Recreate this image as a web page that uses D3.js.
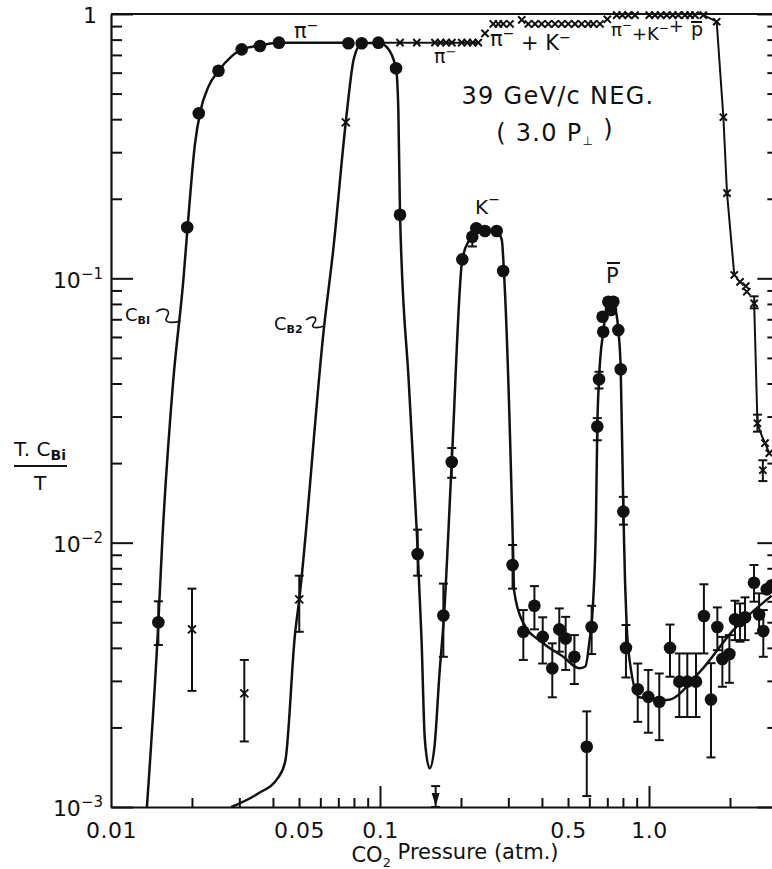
<!DOCTYPE html>
<html>
<head>
<meta charset="utf-8">
<script src="https://cdn.jsdelivr.net/npm/d3@7"></script>
<style>
  body { margin: 0; background: #fff; }
  text { font-family: "DejaVu Sans", sans-serif; fill: #111; }
</style>
</head>
<body>
<script>
// ---------------- data ----------------
// filled circles: pressure (atm), T.C_Bi/T, error bar low / high (null = none)
const dotP  = [0.0150, 0.0192, 0.0212, 0.0251, 0.0306, 0.0358, 0.0421, 0.0763, 0.0855, 0.0986,
               0.1147, 0.1187, 0.138, 0.172, 0.1848, 0.2023, 0.2204, 0.228, 0.2456, 0.2715,
               0.287, 0.311, 0.341, 0.375, 0.4026, 0.437, 0.464, 0.49, 0.528, 0.587,
               0.612, 0.6425, 0.652, 0.672, 0.676, 0.706, 0.722, 0.737, 0.769, 0.785,
               0.803, 0.821, 0.908, 0.994, 1.092, 1.197, 1.296, 1.388, 1.495, 1.60,
               1.70, 1.795, 1.874, 1.99, 2.088, 2.18, 2.275, 2.456, 2.566, 2.66, 2.74, 2.86];
const dotT  = [5.0e-3, 0.156, 0.421, 0.610, 0.735, 0.757, 0.779, 0.775, 0.775, 0.779,
               0.623, 0.174, 9.06e-3, 5.3e-3, 0.0202, 0.118, 0.1437, 0.1546, 0.151, 0.151,
               0.1066, 8.23e-3, 4.6e-3, 5.77e-3, 4.4e-3, 3.35e-3, 4.7e-3, 4.34e-3, 3.7e-3, 1.69e-3,
               4.8e-3, 0.0275, 0.0415, 0.0716, 0.0628, 0.0815, 0.0759, 0.0815, 0.0637, 0.0453,
               0.0131, 4.0e-3, 2.79e-3, 2.61e-3, 2.5e-3, 4.0e-3, 2.98e-3, 2.98e-3, 2.98e-3, 5.28e-3,
               2.55e-3, 4.8e-3, 3.63e-3, 3.79e-3, 5.13e-3, 5.05e-3, 5.22e-3, 7.05e-3, 5.35e-3, 4.63e-3, 6.66e-3, 6.9e-3];
const dotLo = [4.1e-3, null, null, null, null, null, null, null, null, null,
               null, null, 7.5e-3, 3.7e-3, 0.0176, null, 0.132, null, null, null,
               null, 6.7e-3, 3.6e-3, 4.7e-3, 3.49e-3, 2.6e-3, 3.87e-3, 3.3e-3, 2.92e-3, 1.1e-3,
               3.79e-3, 0.0244, 0.0383, null, null, null, null, null, null, null,
               0.0117, 3.09e-3, 2.1e-3, 1.91e-3, 1.79e-3, 3.11e-3, 2.19e-3, 2.19e-3, 2.19e-3, 3.81e-3,
               1.54e-3, 3.92e-3, 2.85e-3, 2.95e-3, 4.28e-3, 4.22e-3, 4.28e-3, 5.98e-3, 4.54e-3, 3.7e-3, null, null];
const dotHi = [6.0e-3, null, null, null, null, null, null, null, null, null,
               null, null, 0.0112, 7.0e-3, 0.0228, null, 0.1437, null, null, null,
               null, 9.8e-3, 5.56e-3, 6.85e-3, 5.22e-3, 4.16e-3, 5.64e-3, 5.24e-3, 4.47e-3, 2.3e-3,
               5.77e-3, 0.0296, 0.0443, null, null, null, null, null, null, null,
               0.0149, 4.88e-3, 3.49e-3, 3.3e-3, 3.2e-3, 4.9e-3, 3.81e-3, 3.81e-3, 3.81e-3, 6.96e-3,
               3.5e-3, 5.69e-3, 4.4e-3, 4.47e-3, 6.03e-3, 5.89e-3, 6.21e-3, 8.23e-3, 6.43e-3, 5.56e-3, null, null];

// crosses (total transmission T and C_B2 points)
const crossP  = [0.0200, 0.0313, 0.0501, 0.0746,
                 0.0985, 0.1187, 0.137, 0.160, 0.168, 0.176, 0.185, 0.2013, 0.211, 0.2212, 0.232, 0.2457,
                 0.2637, 0.2754, 0.2873, 0.3043, 0.3364, 0.3559, 0.3769, 0.3991, 0.4224, 0.4473, 0.4737,
                 0.5012, 0.5307, 0.5621, 0.5948, 0.6209, 0.6574, 0.6998,
                 0.7586, 0.7959, 0.8377, 0.8872, 1.0026, 1.0527, 1.1053, 1.1636, 1.2248, 1.2852,
                 1.3609, 1.4205, 1.4826, 1.5918, 1.785,
                 1.89, 1.95, 2.075, 2.18, 2.29, 2.31, 2.46, 2.53, 2.70, 2.80, 2.65];
const crossT  = [4.7e-3, 2.69e-3, 6.1e-3, 0.389,
                 0.779, 0.779, 0.779, 0.779, 0.779, 0.779, 0.779, 0.779, 0.779, 0.779, 0.779, 0.845,
                 0.917, 0.917, 0.917, 0.917, 0.950, 0.917, 0.917, 0.917, 0.917, 0.917, 0.917,
                 0.917, 0.917, 0.917, 0.917, 0.917, 0.917, 0.955,
                 0.99, 0.99, 0.99, 0.99, 0.99, 0.99, 0.99, 0.99, 0.99, 0.99,
                 0.99, 0.99, 0.99, 0.99, 0.935,
                 0.407, 0.210, 0.103, 0.097, 0.0935, 0.089, 0.0804, 0.0283, 0.0238, 0.0218, 0.0188];
const crossLo = {0: 2.75e-3, 1: 1.77e-3, 2: 4.6e-3, 55: 0.077, 56: 0.0263, 59: 0.0171};
const crossHi = {0: 6.7e-3, 1: 3.6e-3, 2: 7.5e-3, 55: 0.0855, 56: 0.0305, 59: 0.0205};

// fitted curve C_B1
const b1P = [0.0136, 0.0150, 0.0155, 0.0170, 0.0186, 0.0193, 0.0205, 0.0215, 0.0230, 0.0251,
             0.0280, 0.0306, 0.0358, 0.0421, 0.0600, 0.0763];
const b1T = [1e-3, 5e-3, 1e-2, 0.04, 0.1, 0.16, 0.32, 0.43, 0.53, 0.61,
             0.69, 0.735, 0.760, 0.778, 0.779, 0.779];

// fitted curve C_B2 through the K- and p peaks
const b2P = [0.0280, 0.0350, 0.0420, 0.0445, 0.0483, 0.0501, 0.0620, 0.0670, 0.0746, 0.0800,
             0.0855, 0.0986, 0.1060, 0.1147, 0.1170, 0.1187, 0.1280, 0.1370, 0.1427, 0.1468,
             0.1529, 0.1595, 0.1664, 0.1730, 0.1848, 0.2023, 0.2150, 0.2300, 0.2700, 0.2835,
             0.2900, 0.3130, 0.3150, 0.3400, 0.4000, 0.4800, 0.5500, 0.5800, 0.6000, 0.6200,
             0.6350, 0.6425, 0.6520, 0.6760, 0.7000, 0.7220, 0.7450, 0.7690, 0.7850, 0.8030,
             0.8150, 0.8250, 0.8500, 0.9200, 1.164, 1.548, 2.058, 2.860];
const b2T = [1e-3, 1.12e-3, 1.3e-3, 1.5e-3, 4.5e-3, 6.1e-3, 0.066, 0.128, 0.389, 0.68,
             0.775, 0.779, 0.75, 0.623, 0.433, 0.174, 0.04, 0.011, 4.3e-3, 1.8e-3,
             1.4e-3, 1.7e-3, 3.2e-3, 5.3e-3, 0.0202, 0.118, 0.14, 0.152, 0.152, 0.14,
             0.0985, 8.6e-3, 6.6e-3, 5.0e-3, 4.2e-3, 3.7e-3, 3.35e-3, 3.4e-3, 4.2e-3, 6.0e-3,
             0.012, 0.0275, 0.0415, 0.0628, 0.078, 0.081, 0.078, 0.0637, 0.0453, 0.0131,
             7e-3, 5e-3, 3.5e-3, 2.6e-3, 2.54e-3, 3.25e-3, 4.67e-3, 6.3e-3];

// straight lines joining the total-transmission crosses
const tLines = [
  {p: [0.0986, 0.2320], t: [0.779, 0.779]},
  {p: [1.5918, 1.785, 1.89, 1.95, 2.075], t: [0.99, 0.935, 0.407, 0.210, 0.103]},
  {p: [2.46, 2.53, 2.62, 2.70, 2.80], t: [0.0804, 0.0283, 0.0255, 0.0238, 0.0218]}
];

// upper-limit arrow
const limitP = 0.161, limitT = 1.2e-3;

// axes
const xMajor = [0.1, 1];
const xMinor = [0.02, 0.03, 0.04, 0.05, 0.06, 0.07, 0.08, 0.09, 0.2, 0.3, 0.4, 0.5, 0.6, 0.7, 0.8, 0.9, 2];
const xLabels = [0.01, 0.05, 0.1, 0.5, 1];
const xLabelText = ["0.01", "0.05", "0.1", "0.5", "1.0"];
const yMajor = [1e-3, 1e-2, 1e-1, 1];
const yLabelExp = [-3, -2, -1, 0];

// ---------------- drawing ----------------
const width = 772, height = 869;
const svg = d3.select("body").append("svg")
    .attr("width", width).attr("height", height);
svg.append("rect").attr("width", width).attr("height", height).attr("fill", "#fff");

const x = d3.scaleLog().domain([0.01, 3]).range([111, 111 + 269 * Math.log10(300)]);
const y = d3.scaleLog().domain([1e-3, 1]).range([807, 14]);

const yMinor = [];
[1e-3, 1e-2, 1e-1].forEach(d => { for (let k = 2; k <= 9; k++) yMinor.push(d * k); });

const ink = "#111";

function styleAxis(g) {
    g.selectAll("line").attr("stroke", ink).attr("stroke-width", 2);
    g.selectAll(".domain").attr("stroke", ink).attr("stroke-width", 2.2);
}

// bottom axis: minor ticks, major ticks, labels
svg.append("g").attr("transform", `translate(0,${y(1e-3)})`)
    .call(d3.axisBottom(x).tickValues(xMinor).tickSizeInner(-9).tickSizeOuter(0).tickFormat(""))
    .call(styleAxis);
svg.append("g").attr("transform", `translate(0,${y(1e-3)})`)
    .call(d3.axisBottom(x).tickValues(xMajor).tickSizeInner(-21).tickSizeOuter(0).tickFormat(""))
    .call(styleAxis).select(".domain").remove();
svg.append("g").attr("transform", `translate(0,${y(1e-3)})`)
    .call(d3.axisBottom(x).tickValues(xLabels).tickSize(0).tickPadding(15)
        .tickFormat((d, i) => xLabelText[i]))
    .call(g => g.select(".domain").remove())
    .selectAll("text").attr("font-size", 22).attr("letter-spacing", 0.5)
    .style("font-family", "DejaVu Sans");

// left axis
svg.append("g").attr("transform", `translate(${x(0.01)},0)`)
    .call(d3.axisLeft(y).tickValues(yMinor).tickSizeInner(-11).tickSizeOuter(0).tickFormat(""))
    .call(styleAxis);
const yl = svg.append("g").attr("transform", `translate(${x(0.01)},0)`)
    .call(d3.axisLeft(y).tickValues(yMajor).tickSizeInner(-22).tickSizeOuter(0).tickPadding(8))
    .call(styleAxis);
yl.select(".domain").remove();
yl.selectAll("text").each(function(d) {
    const t = d3.select(this).text(null).attr("font-size", 22).style("font-family", "DejaVu Sans");
    const e = yLabelExp[yMajor.indexOf(d)];
    if (e === 0) { t.text("1").attr("dy", "0.4em").attr("x", -14); return; }
    t.attr("dy", "0.4em");
    t.append("tspan").text("10");
    t.append("tspan").text("\u2212" + Math.abs(e)).attr("font-size", 15).attr("dy", "-0.6em");
});

// right axis (frame edge lies just beyond the picture)
svg.append("g").attr("transform", `translate(${x(3)},0)`)
    .call(d3.axisRight(y).tickValues(yMinor).tickSizeInner(-10).tickSizeOuter(0).tickFormat(""))
    .call(styleAxis);
svg.append("g").attr("transform", `translate(${x(3)},0)`)
    .call(d3.axisRight(y).tickValues(yMajor).tickSizeInner(-20).tickSizeOuter(0).tickFormat(""))
    .call(styleAxis);

// top frame
svg.append("line")
    .attr("x1", x(0.01)).attr("x2", x(3)).attr("y1", y(1)).attr("y2", y(1))
    .attr("stroke", ink).attr("stroke-width", 2.2);

// curves
const line = d3.line().x(d => x(d[0])).y(d => y(d[1])).curve(d3.curveMonotoneX);
svg.append("path").datum(d3.zip(b1P, b1T)).attr("d", line)
    .attr("fill", "none").attr("stroke", ink).attr("stroke-width", 2.5);
svg.append("path").datum(d3.zip(b2P, b2T)).attr("d", line)
    .attr("fill", "none").attr("stroke", ink).attr("stroke-width", 2.5);

const straight = d3.line().x(d => x(d[0])).y(d => y(d[1]));
tLines.forEach(s => {
    svg.append("path").datum(d3.zip(s.p, s.t)).attr("d", straight)
        .attr("fill", "none").attr("stroke", ink).attr("stroke-width", 2);
});

// error bars
function errBar(p, lo, hi) {
    const g = svg.append("g").attr("stroke", ink).attr("stroke-width", 2);
    g.append("line").attr("x1", x(p)).attr("x2", x(p)).attr("y1", y(lo)).attr("y2", y(hi));
    [lo, hi].forEach(v => g.append("line")
        .attr("x1", x(p) - 4.5).attr("x2", x(p) + 4.5).attr("y1", y(v)).attr("y2", y(v)));
}
dotP.forEach((p, i) => { if (dotLo[i] != null) errBar(p, dotLo[i], dotHi[i]); });
crossP.forEach((p, i) => { if (crossLo[i] != null) errBar(p, crossLo[i], crossHi[i]); });

// upper-limit arrow
errBar(limitP, 1e-3, limitT);
svg.append("path")
    .attr("d", `M${x(limitP) - 4},${y(1e-3) - 14}L${x(limitP) + 4},${y(1e-3) - 14}L${x(limitP)},${y(1e-3) - 1}Z`)
    .attr("fill", ink);

// markers
svg.append("g").selectAll("circle")
    .data(d3.zip(dotP, dotT))
    .join("circle")
    .attr("cx", d => x(d[0])).attr("cy", d => y(d[1])).attr("r", 6.3)
    .attr("fill", ink);

svg.append("g").selectAll("path")
    .data(d3.zip(crossP, crossT))
    .join("path")
    .attr("d", (d, i) => {
        const s = i < 4 ? 4 : 3.6;
        const cx = x(d[0]), cy = y(d[1]);
        return `M${cx - s},${cy - s}L${cx + s},${cy + s}M${cx - s},${cy + s}L${cx + s},${cy - s}`;
    })
    .attr("stroke", ink).attr("stroke-width", 2).attr("fill", "none");

// ---------------- text ----------------
function label(px, py, size, parts, anchor) {
    const t = svg.append("text").attr("x", px).attr("y", py)
        .attr("font-size", size).attr("text-anchor", anchor || "start");
    parts.forEach(p => {
        const s = t.append("tspan").text(p.t);
        if (p.dy) s.attr("dy", p.dy);
        if (p.size) s.attr("font-size", p.size);
        if (p.bold) s.attr("font-weight", "bold");
    });
    return t;
}
function bar(x1, x2, yy) {
    svg.append("line").attr("x1", x1).attr("x2", x2).attr("y1", yy).attr("y2", yy)
        .attr("stroke", ink).attr("stroke-width", 2);
}

label(558, 104, 24, [{t: "39 GeV/c NEG."}], "middle").attr("letter-spacing", 1.3);
label(555, 141, 24, [{t: "( 3.0  P"}, {t: "\u22a5", size: 12, dy: "0.3em"}, {t: " )", dy: "-0.3em"}], "middle")
    .attr("letter-spacing", 1.3);

label(294, 38, 21, [{t: "\u03c0"}, {t: "\u2212", size: 14, dy: "-0.6em"}]);
label(434, 63, 19, [{t: "\u03c0"}, {t: "\u2212", size: 13, dy: "-0.55em"}]);
label(490, 46, 21, [{t: "\u03c0"}, {t: "\u2212", size: 14, dy: "-0.6em"}, {t: " + K", dy: "0.6em"}, {t: "\u2212", size: 14, dy: "-0.6em"}]);
label(611, 36, 18, [{t: "\u03c0"}, {t: "\u2212", size: 12, dy: "-0.6em"}, {t: "+K", dy: "0.6em"}, {t: "\u2212", size: 12, dy: "-0.6em"}, {t: "+"}]);
label(691, 36, 19, [{t: "p"}]);
bar(691, 702, 22);

label(475, 214, 20, [{t: "K"}, {t: "\u2212", size: 14, dy: "-0.75em"}]);
label(606, 283, 21, [{t: "P"}]);
bar(607, 620, 263);

// C_B1 / C_B2 tags with curly leaders to the curves
label(125, 321, 18, [{t: "C"}, {t: "BI", size: 11, bold: true, dy: "0.3em"}]);
label(274, 330, 18, [{t: "C"}, {t: "B2", size: 11, bold: true, dy: "0.3em"}]);
function leader(px, py, tx, ty) {
    const mx = (px + tx) / 2;
    svg.append("path")
        .attr("d", `M${px},${py} C${px + 6},${py - 5} ${mx + 4},${py - 3} ${mx - 1},${(py + ty) / 2} S${tx - 6},${ty + 2} ${tx},${ty}`)
        .attr("fill", "none").attr("stroke", ink).attr("stroke-width", 1.6);
}
leader(156, 312, x(0.0181), y(0.069));
leader(306, 320, x(0.062), y(0.066));

// y-axis title (fraction)
label(14, 456, 20, [{t: "T. C"}, {t: "Bi", size: 14, bold: true, dy: "0.3em"}]);
svg.append("line").attr("x1", 14).attr("x2", 67).attr("y1", 466).attr("y2", 466)
    .attr("stroke", ink).attr("stroke-width", 2);
label(40, 490, 20, [{t: "T"}], "middle");

// x-axis title
label(455, 862, 21, [{t: "CO"}, {t: "2", size: 13, dy: "0.35em"}, {t: "  Pressure (atm.)", dy: "-0.35em"}], "middle");
</script>
</body>
</html>
